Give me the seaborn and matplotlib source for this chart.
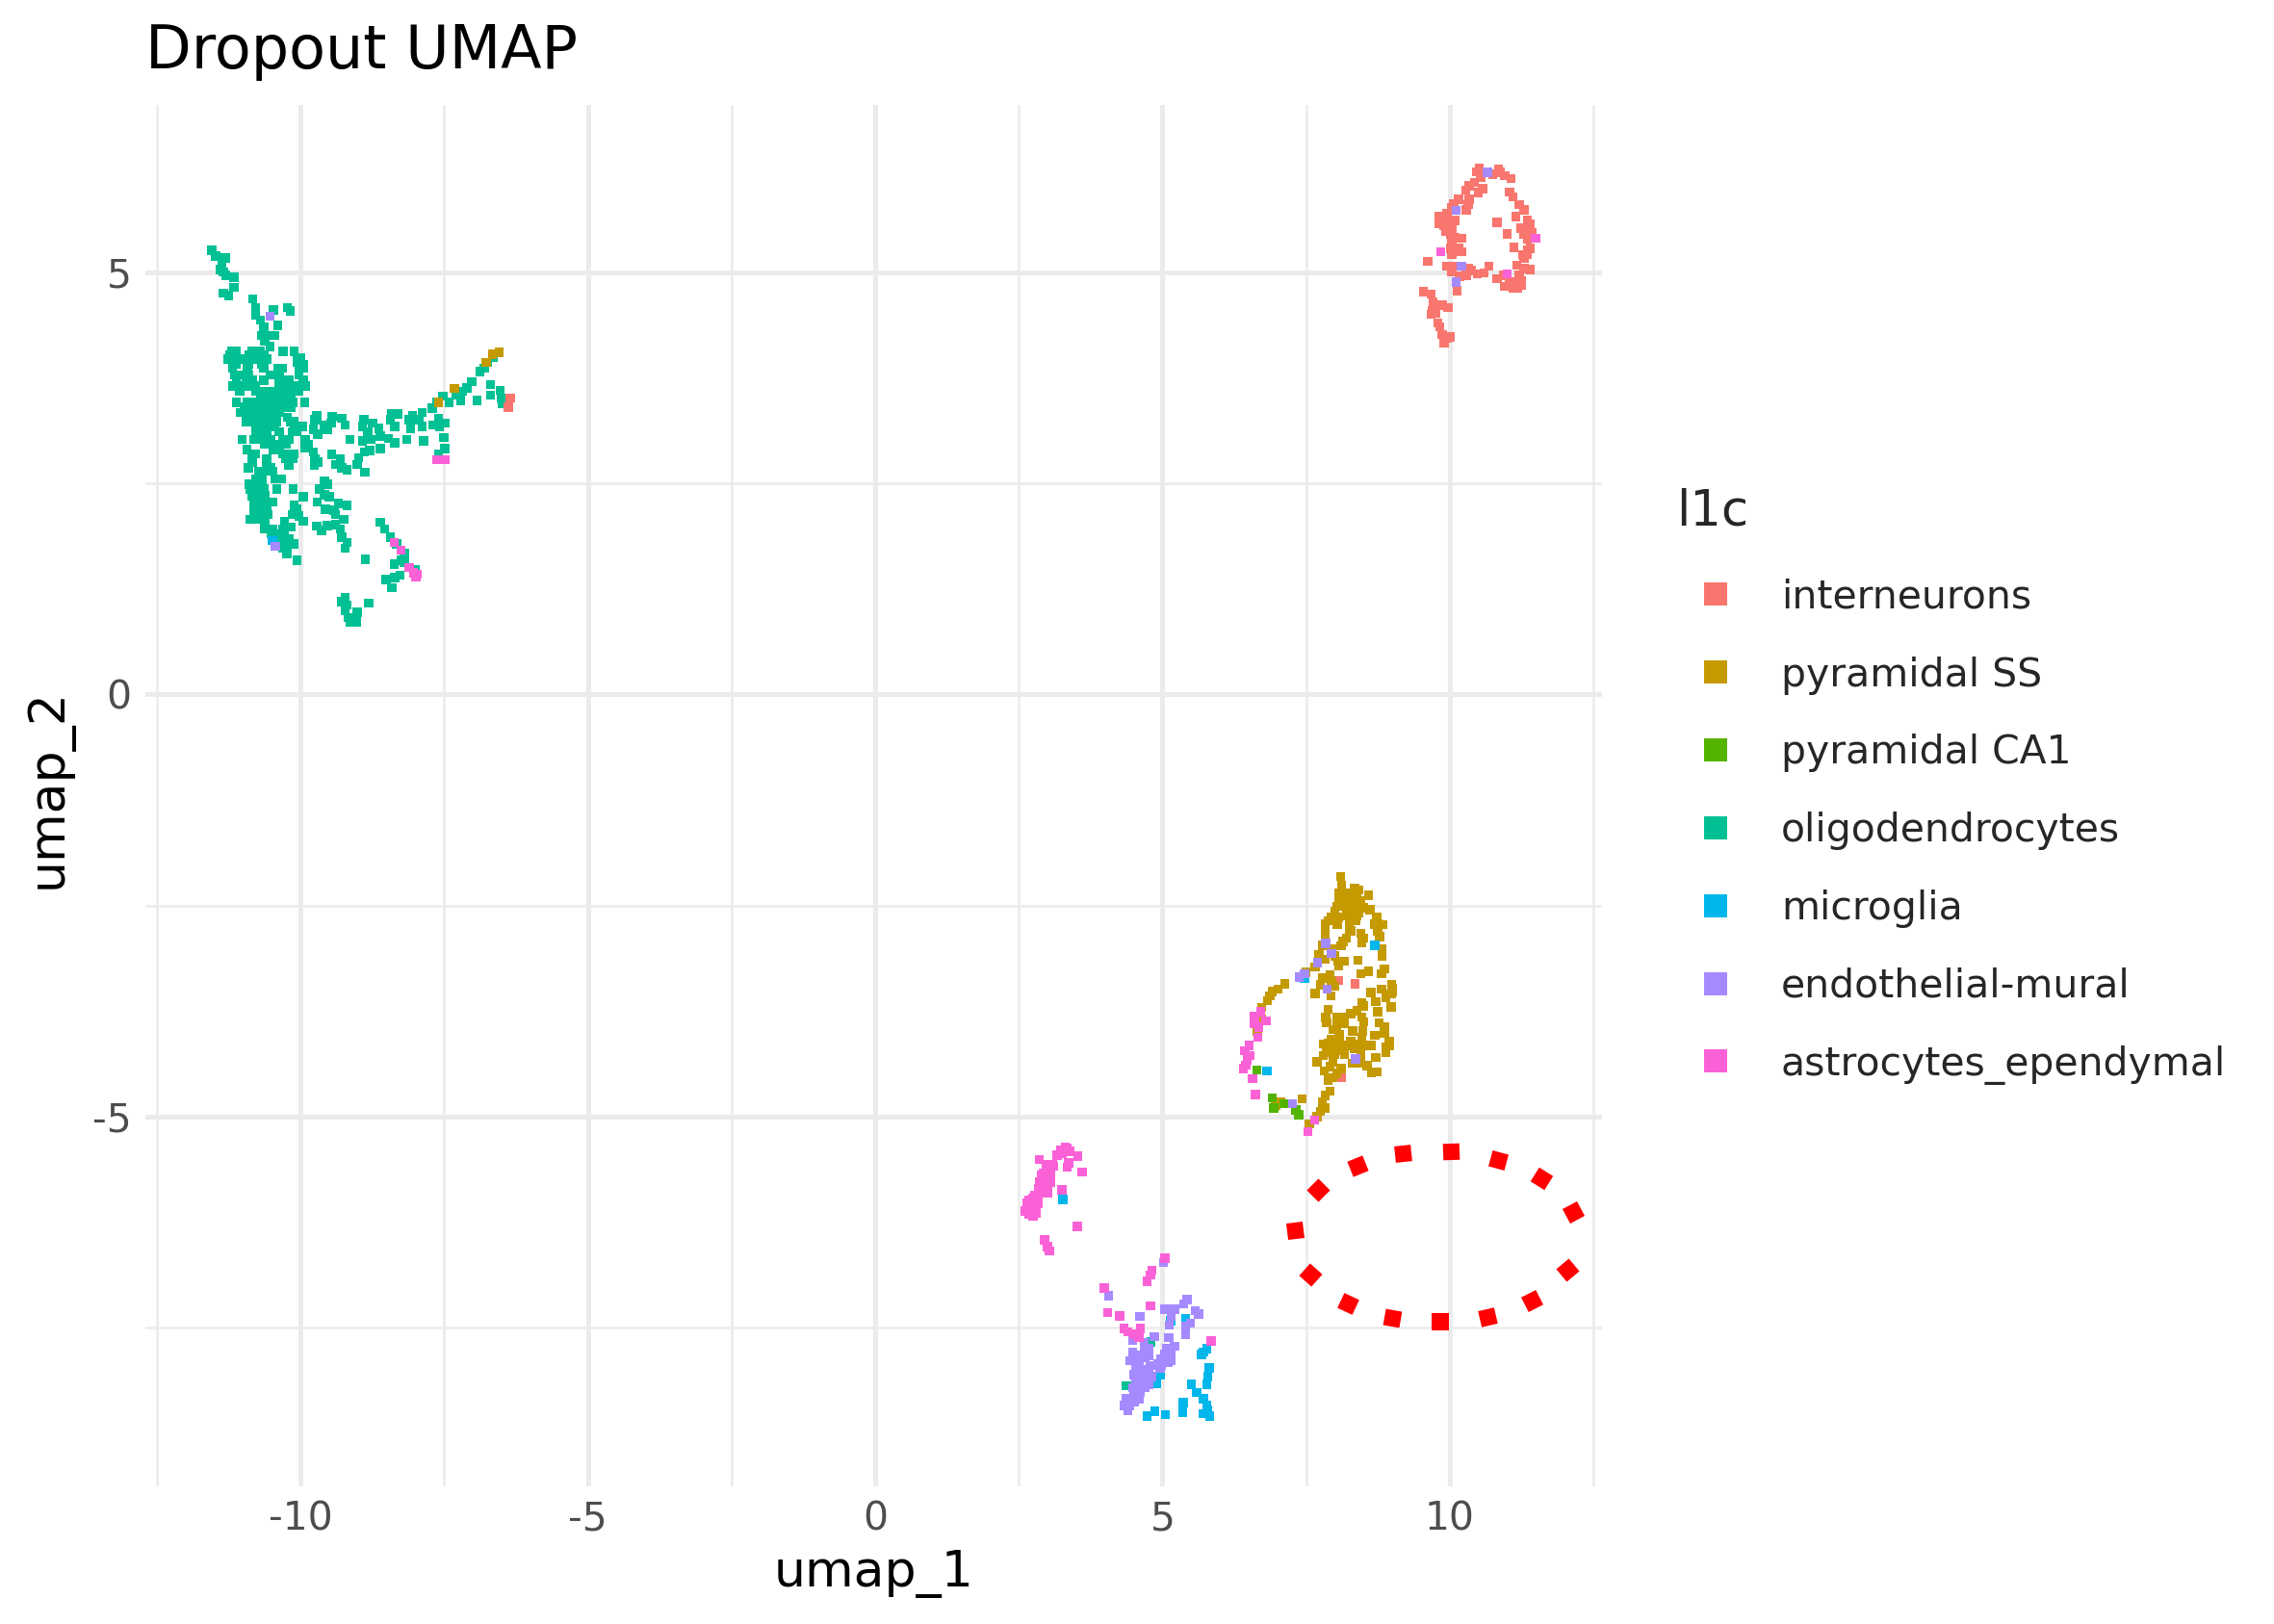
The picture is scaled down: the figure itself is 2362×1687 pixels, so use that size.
import matplotlib
matplotlib.use("Agg")
import matplotlib.pyplot as plt
import pandas as pd
import seaborn as sns

cell_types = ["interneurons", "pyramidal SS", "pyramidal CA1", "oligodendrocytes",
              "microglia", "endothelial-mural", "astrocytes_ependymal"]
hue_colors = ["#F8766D", "#C49A00", "#53B400", "#00C094", "#00B6EB", "#A58AFF", "#FB61D7"]

# oligodendrocyte body, read as rows: (umap_2, [umap_1 ...])
oligo_rows = [
    (4.06, [-11.20, -11.12, -10.84, -10.70, -10.30, -10.11]),
    (4.02, [-11.23, -11.15, -10.90, -10.64]),
    (3.97, [-11.26, -11.18, -11.09, -10.95, -10.81, -10.70, -10.59, -10.06]),
    (3.91, [-11.12, -10.90, -10.67, -10.03, -9.95]),
    (3.86, [-11.18, -10.92, -10.64, -10.39, -10.31, -10.03, -9.95]),
    (3.78, [-11.15, -11.06, -10.90, -10.53, -10.37, -10.03]),
    (3.72, [-11.12, -10.95, -10.84, -10.64, -10.37, -10.28, -10.20, -9.95]),
    (3.65, [-11.18, -11.09, -10.92, -10.78, -10.37, -10.25, -10.11, -10.00, -9.92]),
    (3.59, [-11.06, -10.78, -10.67, -10.53, -10.37, -10.25, -10.17, -10.03]),
    (3.53, [-10.70, -10.59, -10.42, -10.31, -10.17]),
    (3.46, [-11.12, -10.92, -10.78, -10.67, -10.56, -10.45, -10.34, -10.23, -10.14, -9.93]),
    (3.40, [-10.98, -10.87, -10.76, -10.64, -10.53, -10.42, -10.31, -10.17]),
    (3.34, [-11.04, -10.92, -10.81, -10.70, -10.59, -10.48, -10.37]),
    (3.28, [-10.95, -10.84, -10.73, -10.62, -10.51, -10.23]),
    (3.23, [-10.95, -10.84, -10.73, -10.62, -10.42, -10.17, -10.11]),
    (3.17, [-10.78, -10.67, -10.56, -10.45, -10.11, -9.97]),
    (3.11, [-10.78, -10.67, -10.59, -10.37, -10.14, -10.06]),
    (3.02, [-11.02, -10.81, -10.64, -10.51, -10.31, -10.20]),
    (2.96, [-10.62, -10.51, -10.39, -10.25]),
    (2.90, [-10.93, -10.48, -10.37]),
    (2.85, [-10.84, -10.78, -10.31, -10.23, -10.11]),
    (2.79, [-10.59, -10.25, -10.14]),
    (2.75, [-10.84, -10.60]),
    (2.71, [-10.20]),
    (2.68, [-10.91, -10.51]),
    (2.64, [-10.73, -10.64, -10.49]),
    (2.55, [-10.78, -10.67, -10.45, -10.34]),
    (2.49, [-10.90, -10.78, -10.67]),
    (2.43, [-10.87, -10.76, -10.64, -10.41, -10.13]),
    (2.35, [-10.84, -10.73, -10.62]),
    (2.28, [-10.81, -10.70, -10.59, -10.48]),
    (2.20, [-10.81, -10.70, -10.59]),
    (2.13, [-10.81, -10.64, -10.56]),
    (2.07, [-10.87, -10.78, -10.62]),
    (2.01, [-10.62]),
    (1.96, [-10.62, -10.48]),
    (1.90, [-10.51, -10.42, -10.28]),
    (1.84, [-10.42, -10.31, -10.20]),
    (1.78, [-10.31, -10.20, -10.11]),
    (1.73, [-10.31]),
    (1.67, [-10.24]),
    (1.59, [-10.06]),
]

oligo_top_tail = [
    (-11.54, 5.26), (-11.48, 5.19), (-11.37, 5.11), (-11.31, 5.17), (-11.40, 5.03),
    (-11.34, 5.00), (-11.30, 4.96), (-11.16, 4.94), (-11.16, 4.82), (-11.34, 4.75),
    (-11.25, 4.72), (-10.83, 4.68), (-10.78, 4.58), (-10.78, 4.49), (-10.70, 4.43),
    (-10.64, 4.35), (-10.67, 4.25), (-10.58, 4.25), (-10.45, 4.25), (-10.62, 4.18),
    (-10.53, 4.12), (-10.47, 4.55), (-10.23, 4.58), (-10.18, 4.54), (-10.40, 4.37),
]

oligo_arm = [
    (-9.72, 3.30), (-9.75, 3.25), (-9.58, 3.19), (-9.45, 3.29), (-9.47, 3.21), (-9.53, 3.13),
    (-9.28, 3.27), (-9.22, 3.19), (-9.78, 3.14), (-9.70, 3.08), (-9.92, 3.02), (-9.86, 2.96),
    (-9.92, 2.92), (-9.78, 2.87), (-9.75, 2.79), (-9.70, 2.75), (-9.76, 2.71), (-9.14, 3.02),
    (-9.46, 2.84), (-9.31, 2.79), (-9.39, 2.72), (-9.28, 2.68), (-9.19, 2.66),
    (-8.90, 3.25), (-8.75, 3.21), (-8.92, 3.17), (-8.83, 3.11), (-8.64, 3.15), (-8.61, 3.06),
    (-8.92, 3.00), (-8.77, 3.02), (-8.47, 3.03), (-8.36, 2.98), (-8.80, 2.89), (-8.89, 2.87),
    (-8.61, 2.91), (-8.99, 2.80), (-9.01, 2.72), (-8.88, 2.63), (-8.41, 3.32), (-8.30, 3.32),
    (-8.44, 3.25), (-8.36, 3.17),
    (-8.05, 3.30), (-7.88, 3.34), (-8.11, 3.25), (-7.94, 3.25), (-8.08, 3.15), (-7.88, 3.17),
    (-8.15, 3.02), (-7.86, 3.00), (-7.71, 3.39), (-7.63, 3.46), (-7.52, 3.53),
    (-7.60, 3.27), (-7.69, 3.19), (-7.58, 3.17), (-7.49, 3.21), (-7.51, 3.04), (-7.49, 2.91),
    (-7.60, 2.85), (-7.41, 3.46),
    (-7.30, 3.55), (-7.21, 3.48), (-7.19, 3.59), (-7.10, 3.63), (-7.02, 3.70), (-6.88, 3.82),
    (-6.80, 3.86), (-6.74, 3.93), (-6.65, 3.99), (-6.93, 3.48), (-6.69, 3.67), (-6.69, 3.54),
    (-6.53, 3.60), (-6.51, 3.51), (-6.49, 3.44), (-6.46, 3.44),
]

oligo_lower = [
    (-9.58, 2.52), (-9.53, 2.49), (-9.67, 2.43), (-9.58, 2.36), (-9.50, 2.34), (-9.71, 2.28),
    (-9.95, 2.34), (-10.11, 2.24), (-10.06, 2.20), (-10.14, 2.13), (-10.03, 2.11), (-9.95, 2.05),
    (-10.28, 2.05), (-10.17, 1.98), (-10.30, 1.96),
    (-9.57, 2.19), (-9.42, 2.18), (-9.34, 2.26), (-9.19, 2.24), (-9.39, 2.13), (-9.25, 2.07),
    (-9.72, 1.99), (-9.63, 1.94), (-9.53, 2.00), (-9.39, 2.01), (-9.31, 1.96), (-9.28, 1.86),
    (-9.19, 1.80), (-9.22, 1.73), (-8.87, 1.60),
    (-8.61, 2.04), (-8.54, 1.96), (-8.44, 1.86), (-8.33, 1.78), (-8.19, 1.67), (-8.25, 1.59),
    (-8.19, 1.56), (-8.37, 1.54), (-8.27, 1.41), (-8.36, 1.38), (-8.51, 1.36), (-8.41, 1.26),
    (-8.00, 1.48),
    (-9.22, 1.14), (-9.28, 1.10), (-9.19, 1.06), (-9.22, 0.99), (-9.17, 0.91), (-9.14, 0.86),
    (-9.03, 0.86), (-9.01, 0.97), (-8.81, 1.08),
]

oligo_extra = [
    (4.80, -7.67), (4.37, -8.19),
    (-10.78, 2.53), (-10.70, 2.41), (-10.81, 2.39), (-10.78, 2.30), (-10.64, 2.33), (-10.78, 2.22),
    (-10.67, 2.24), (-10.73, 2.16), (-10.76, 3.36), (-10.64, 3.30), (-10.53, 3.34), (-10.81, 3.27),
    (-10.67, 3.21), (-10.56, 3.25), (-10.70, 3.13), (-10.31, 3.49), (-10.25, 3.55), (-10.37, 3.67),
    (-10.31, 3.70), (-10.37, 3.59), (-10.25, 3.42), (-10.06, 3.93), (-10.00, 3.99), (-10.03, 3.89),
]

interneuron_pts = [
    (10.51, 6.23), (10.46, 6.19), (10.57, 6.19), (10.54, 6.12), (10.43, 6.06), (10.34, 6.02),
    (10.28, 5.97), (10.57, 5.99), (10.50, 5.94), (10.34, 5.86), (10.32, 5.80), (10.29, 5.74),
    (10.15, 5.86), (10.07, 5.81), (10.04, 5.76), (9.95, 5.70), (9.81, 5.66), (9.87, 5.61),
    (9.98, 5.61), (10.09, 5.61), (9.81, 5.57), (9.90, 5.55), (9.98, 5.52), (9.93, 5.48),
    (10.01, 5.45), (10.09, 5.41), (10.20, 5.40), (10.04, 5.36), (10.01, 5.28), (10.15, 5.28),
    (10.20, 5.24), (10.04, 5.21), (9.62, 5.13), (9.95, 5.07), (10.07, 5.07), (10.32, 5.05),
    (10.37, 5.02), (10.04, 5.00), (10.29, 4.96), (10.17, 4.95), (10.13, 4.78), (10.48, 4.98),
    (10.60, 4.99), (10.68, 5.07), (10.82, 5.59), (11.00, 5.45), (11.12, 5.29),
    (10.85, 6.22), (10.88, 6.18), (10.96, 6.14), (11.07, 6.11), (10.75, 6.16), (11.04, 5.95),
    (11.10, 5.89), (11.21, 5.80), (11.29, 5.74), (11.15, 5.66), (11.35, 5.62), (11.40, 5.57),
    (11.24, 5.52), (11.29, 5.45), (11.43, 5.47), (11.35, 5.39), (11.40, 5.28), (11.35, 5.21),
    (11.29, 5.17), (11.17, 5.08), (11.29, 5.04), (11.40, 5.03), (11.21, 4.96), (11.24, 4.90),
    (11.15, 4.86), (11.04, 4.88), (10.96, 4.83), (11.10, 4.81), (11.18, 4.81), (10.93, 4.96),
    (10.82, 4.92), (9.54, 4.77), (9.68, 4.74), (9.71, 4.64), (9.70, 4.54), (9.87, 4.61),
    (9.97, 4.58), (9.76, 4.52), (9.68, 4.50), (9.79, 4.40), (9.83, 4.35), (9.87, 4.26),
    (9.95, 4.22), (9.90, 4.16), (10.01, 4.23),
    (9.84, 5.61), (9.93, 5.62), (9.93, 5.57), (10.04, 5.51), (10.04, 5.28), (11.24, 4.84),
    (11.10, 4.88), (11.35, 5.49), (11.35, 5.26), (11.27, 5.21),
    # strays in the other clusters
    (-6.35, 3.51), (-6.38, 3.40), (8.06, -3.39), (8.35, -3.43), (8.12, -4.54), (6.60, -3.85),
]

pyramidal_ss_pts = [
    (8.10, -2.16), (8.12, -2.26), (8.08, -2.36), (8.34, -2.30), (8.42, -2.32), (8.20, -2.36),
    (8.28, -2.38), (8.59, -2.38), (8.08, -2.41), (8.17, -2.43), (8.34, -2.41), (8.45, -2.45),
    (8.25, -2.47), (8.03, -2.51), (8.14, -2.51), (8.36, -2.53), (8.50, -2.53), (8.61, -2.55),
    (8.00, -2.57), (8.25, -2.57), (8.42, -2.59), (7.94, -2.64), (8.06, -2.64), (8.28, -2.64),
    (8.39, -2.62), (8.73, -2.64), (7.83, -2.72), (8.04, -2.73), (8.25, -2.72), (8.70, -2.72),
    (8.84, -2.73), (7.83, -2.80), (8.28, -2.80), (8.75, -2.80), (7.83, -2.87), (8.20, -2.89),
    (8.45, -2.83), (8.50, -2.89), (8.78, -2.87), (8.14, -2.93), (8.47, -2.94), (7.78, -2.97),
    (8.11, -2.98), (8.82, -3.02), (8.82, -3.10), (7.94, -3.02), (7.72, -3.08), (8.00, -3.10),
    (7.83, -3.14), (8.06, -3.16), (8.16, -3.16), (8.40, -3.15), (7.66, -3.23), (8.07, -3.22),
    (8.86, -3.25), (8.59, -3.28), (8.45, -3.31), (8.81, -3.31), (7.50, -3.29), (7.92, -3.32),
    (7.78, -3.36), (7.94, -3.40), (7.75, -3.44), (8.00, -3.46), (8.99, -3.44), (7.13, -3.43),
    (8.81, -3.49), (8.63, -3.53), (9.00, -3.52), (7.66, -3.54), (7.93, -3.57), (8.89, -3.59),
    (8.95, -3.55), (7.01, -3.49), (6.91, -3.52), (6.87, -3.57), (6.83, -3.63), (6.73, -3.71),
    (8.47, -3.65), (8.50, -3.69), (8.71, -3.64), (8.98, -3.70), (7.88, -3.73), (8.39, -3.75),
    (8.75, -3.76), (8.28, -3.78), (8.17, -3.82), (7.84, -3.83), (8.03, -3.82), (8.47, -3.82),
    (8.50, -3.88), (7.86, -3.89), (6.72, -3.85), (8.17, -3.90), (8.77, -3.89), (8.03, -3.92),
    (8.86, -3.94), (7.97, -3.97), (6.65, -3.99), (8.08, -4.03), (8.31, -3.99), (8.49, -3.99),
    (8.86, -4.01), (8.70, -4.04), (7.94, -4.09), (8.08, -4.11), (8.28, -4.11), (8.47, -4.07),
    (7.89, -4.13), (8.95, -4.11), (7.80, -4.14), (8.03, -4.16), (8.25, -4.16), (8.50, -4.16),
    (8.64, -4.16), (7.86, -4.20), (8.08, -4.22), (8.34, -4.20), (8.89, -4.18), (7.80, -4.28),
    (8.00, -4.26), (8.17, -4.26), (8.45, -4.26), (8.71, -4.30), (8.89, -4.24), (7.69, -4.35),
    (7.97, -4.35), (7.92, -4.41), (8.31, -4.37), (8.45, -4.37), (8.56, -4.40), (8.11, -4.43),
    (7.82, -4.46), (8.03, -4.49), (8.64, -4.48), (8.73, -4.47), (7.97, -4.54), (7.88, -4.57),
    (7.92, -4.70), (7.83, -4.75), (7.78, -4.83), (7.43, -4.79), (7.05, -4.83), (7.83, -4.90),
    (7.75, -4.94), (7.69, -5.00), (7.56, -5.09), (6.97, -4.87),
    (8.20, -2.41), (8.25, -2.40), (8.39, -2.38), (8.34, -2.47), (8.42, -2.51), (8.20, -2.53),
    (8.34, -2.59), (8.20, -2.62), (8.36, -2.68), (8.25, -2.78), (7.89, -2.68), (8.75, -2.72),
    (7.97, -4.13), (8.14, -4.16), (8.36, -4.14), (7.94, -4.24), (8.95, -4.16), (8.98, -3.55),
    (9.00, -3.48),
    # strays on the oligodendrocyte arm
    (-6.54, 4.05), (-6.66, 4.03), (-6.77, 3.93), (-7.32, 3.62), (-7.60, 3.46),
]

pyramidal_ca1_pts = [(6.64, -4.45), (6.91, -4.78), (6.94, -4.90), (7.11, -4.85), (7.32, -4.92), (7.37, -4.98)]

microglia_pts = [
    (3.27, -5.98), (4.97, -8.06), (4.89, -8.16), (5.40, -7.39), (5.14, -7.42), (5.71, -7.79),
    (5.77, -7.75), (5.81, -7.98), (5.79, -8.08), (5.77, -8.17), (5.50, -8.17), (5.60, -8.27),
    (5.71, -8.34), (5.77, -8.42), (5.79, -8.48), (5.71, -8.52), (5.82, -8.55), (5.36, -8.39),
    (5.35, -8.50), (4.87, -8.49), (4.73, -8.55), (5.05, -8.53), (5.68, -7.82),
    (8.70, -2.97), (6.82, -4.46), (7.47, -3.36), (-10.49, 1.82),
]

endothelial_pts = [
    (5.02, -6.73), (4.06, -7.12), (4.61, -7.37), (5.43, -7.17), (5.37, -7.22), (5.04, -7.28),
    (5.21, -7.28), (5.15, -7.36), (5.57, -7.30), (5.63, -7.34), (5.12, -7.47), (5.40, -7.49),
    (5.49, -7.45), (5.40, -7.58), (4.86, -7.61), (5.11, -7.62), (4.48, -7.65), (4.68, -7.68),
    (4.76, -7.75), (5.21, -7.72), (4.48, -7.79), (5.12, -7.81), (4.59, -7.83), (4.43, -7.89),
    (5.04, -7.87), (5.15, -7.89), (4.98, -7.95), (4.59, -7.96), (4.79, -7.95), (4.96, -7.98),
    (4.65, -8.04), (4.57, -8.10), (4.82, -8.08), (4.65, -8.15), (4.76, -8.17), (4.57, -8.23),
    (4.51, -8.29), (4.59, -8.34), (4.37, -8.34), (4.43, -8.42), (4.33, -8.42), (4.54, -8.04),
    (4.68, -8.10), (4.54, -8.17), (4.48, -8.36), (4.70, -7.85), (5.10, -7.77),
    (4.71, -8.00), (4.54, -8.00), (4.76, -8.04), (4.54, -8.12), (4.70, -8.21), (4.62, -8.27),
    (4.48, -8.21), (4.43, -8.34), (4.51, -8.38), (4.40, -8.48), (5.04, -7.81), (4.98, -7.87),
    (4.93, -7.93), (5.10, -7.91), (5.07, -7.75), (5.15, -7.79), (4.51, -8.06), (4.59, -7.91),
    (4.68, -7.77), (4.76, -7.83),
    (7.84, -2.95), (7.94, -3.07), (7.70, -3.18), (7.47, -3.31), (7.38, -3.35), (7.87, -3.49),
    (8.36, -4.32), (7.26, -4.85), (10.66, 6.18), (10.11, 5.73), (10.20, 5.07), (10.11, 4.88),
    (-10.53, 4.48), (-10.44, 1.75),
]

astrocyte_pts = [
    (3.31, -5.36), (3.23, -5.40), (3.39, -5.41), (3.17, -5.46), (3.53, -5.47), (2.86, -5.51),
    (3.11, -5.59), (3.37, -5.55), (3.34, -5.60), (3.00, -5.61), (2.92, -5.67), (3.03, -5.67),
    (3.60, -5.66), (2.89, -5.74), (3.00, -5.74), (2.92, -5.82), (3.00, -5.86), (3.25, -5.87),
    (3.00, -5.91), (2.78, -5.93), (2.89, -5.91), (2.67, -5.99), (2.75, -6.03), (2.67, -6.08),
    (2.81, -6.08), (2.67, -6.16), (2.75, -6.18), (3.52, -6.30), (2.95, -6.46), (3.00, -6.54),
    (3.03, -6.59), (5.04, -6.68), (4.82, -6.82), (4.79, -6.88), (4.73, -6.95), (3.99, -7.03),
    (4.79, -7.24), (4.05, -7.32), (4.26, -7.36), (4.33, -7.51), (4.40, -7.55), (4.51, -7.58),
    (4.59, -7.62), (4.62, -7.51), (5.85, -7.66),
    (2.98, -5.57), (3.09, -5.57), (2.89, -5.70), (2.98, -5.70), (3.06, -5.70), (2.86, -5.78),
    (2.98, -5.78), (3.06, -5.78), (2.84, -5.86), (2.92, -5.87), (2.75, -5.97), (2.84, -5.97),
    (2.64, -6.03), (2.84, -6.03), (2.61, -6.12), (2.72, -6.12), (2.81, -6.14), (3.25, -5.44),
    (3.34, -5.38),
    (6.71, -3.76), (6.60, -3.81), (6.80, -3.87), (6.60, -3.90), (6.68, -3.94), (6.66, -4.06),
    (6.51, -4.16), (6.43, -4.22), (6.52, -4.28), (6.48, -4.33), (6.45, -4.39), (6.41, -4.43),
    (6.57, -4.55), (6.62, -4.74), (7.65, -5.04), (7.53, -5.18),
    (11.49, 5.40), (9.84, 5.24), (11.00, 4.98),
    (-7.63, 2.78), (-7.49, 2.78), (-8.37, 1.80), (-8.25, 1.71), (-8.11, 1.50), (-8.03, 1.44),
    (-7.97, 1.42), (-7.99, 1.39),
]

# red dotted annotation: centre of each dot and its tilt in degrees
ellipse_x = [10.02, 10.84, 11.59, 12.14, 12.05, 11.42, 10.65, 9.83, 9.00, 8.22, 7.57, 7.31, 7.70, 8.39, 9.19]
ellipse_y = [-5.41, -5.51, -5.73, -6.13, -6.82, -7.18, -7.37, -7.43, -7.38, -7.21, -6.87, -6.35, -5.87, -5.58, -5.44]
ellipse_tilt = [2, -15, -32, -62, 40, 27, 13, 0, -10, -25, -42, -83, 45, 22, 6]

x_major = [-10, -5, 0, 5, 10]
x_minor = [-12.5, -7.5, -2.5, 2.5, 7.5, 12.5]
y_major = [-5, 0, 5]
y_minor = [-7.5, -2.5, 2.5]

oligo_pts = oligo_top_tail + oligo_arm + oligo_lower + oligo_extra
for row_y, row_x in oligo_rows:
    oligo_pts = oligo_pts + [(v, row_y) for v in row_x]

# big clusters first so the strays land on top of them
draw_order = [
    ("oligodendrocytes", oligo_pts),
    ("interneurons", interneuron_pts),
    ("pyramidal SS", pyramidal_ss_pts),
    ("pyramidal CA1", pyramidal_ca1_pts),
    ("microglia", microglia_pts),
    ("endothelial-mural", endothelial_pts),
    ("astrocytes_ependymal", astrocyte_pts),
]
frames = []
for name, pts in draw_order:
    frame = pd.DataFrame(pts, columns=["umap_1", "umap_2"])
    frame["l1c"] = name
    frames.append(frame)
df = pd.concat(frames, ignore_index=True)

sns.set_theme(style="white")
plt.rcParams["font.family"] = "DejaVu Sans"
plt.rcParams["axes.unicode_minus"] = False

fig = plt.figure(figsize=(2362 / 300, 1687 / 300), dpi=300)
ax = fig.add_axes([151 / 2362, 1 - 1544 / 1687, (1664 - 151) / 2362, (1544 - 109) / 1687])

sns.scatterplot(data=df, x="umap_1", y="umap_2", hue="l1c", hue_order=cell_types,
                palette=hue_colors, marker="s", s=5.2, linewidth=0, ax=ax, legend="full", zorder=3)

for dot_x, dot_y, tilt in zip(ellipse_x, ellipse_y, ellipse_tilt):
    ax.plot(dot_x, dot_y, linestyle="", marker=(4, 0, tilt + 45), markersize=5.8,
            color="#FF0000", markeredgewidth=0, zorder=4)

ax.set_xlim(-12.7, 12.65)
ax.set_ylim(-9.38, 6.98)
ax.set_xticks(x_major)
ax.set_yticks(y_major)
ax.set_xticks(x_minor, minor=True)
ax.set_yticks(y_minor, minor=True)
ax.grid(True, which="major", color="#EBEBEB", linewidth=1.2, zorder=0)
ax.grid(True, which="minor", color="#EBEBEB", linewidth=0.6, zorder=0)
ax.set_axisbelow(True)
ax.tick_params(which="both", length=0)
ax.tick_params(axis="both", which="major", labelsize=9.8, labelcolor="#4D4D4D", pad=3.5)
sns.despine(ax=ax, left=True, bottom=True)

ax.set_title("Dropout UMAP", loc="left", fontsize=14.9, color="black", pad=9.2)
ax.set_xlabel("umap_1", fontsize=12.5, color="black", labelpad=2.8)
ax.set_ylabel("umap_2", fontsize=12.5, color="black", labelpad=4.9, y=0.505)

sns.move_legend(ax, loc="upper left", bbox_to_anchor=(1733 / 2362, 1 - 498 / 1687),
                bbox_transform=fig.transFigure, title="l1c", frameon=False, fontsize=9.8,
                title_fontsize=12.3, markerscale=2.55, labelspacing=1.0, handletextpad=0.66,
                alignment="left", borderpad=0.2, borderaxespad=0)
ax.get_legend()._legend_box.sep = 10.7

fig.savefig("out.png", dpi=300)
plt.close(fig)
